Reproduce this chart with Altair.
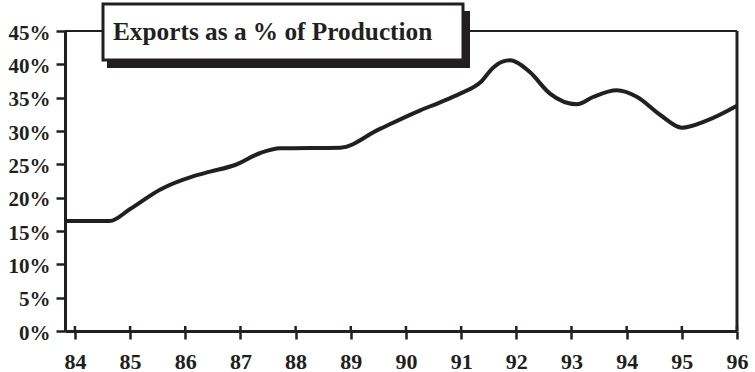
import altair as alt
import pandas as pd

# Exports as a share of production, by year (fractional years for curve shape)
years = [83.82, 84.63, 85.0, 85.54, 86.14, 86.45, 86.9, 87.36, 87.72, 88.81,
         89.5, 90.26, 90.62, 90.98, 91.35, 91.58, 91.75, 91.89, 92.05, 92.25,
         92.61, 93.1, 93.39, 93.82, 94.19, 94.61, 95.0, 95.46, 96.0]
pct = [16.5, 16.5, 18.3, 21.2, 23.2, 23.9, 24.9, 26.7, 27.4, 27.5,
       30.2, 33.1, 34.3, 35.6, 37.3, 39.5, 40.4, 40.6, 40.1, 38.8,
       35.6, 34.0, 35.1, 36.1, 35.1, 32.4, 30.5, 31.6, 33.8]

tick_years = list(range(84, 97))
pct_ticks = list(range(0, 50, 5))
title_text = "Exports as a % of Production"

INK = "#231f20"
FONT = "Liberation Serif"
X_DOMAIN = [83.82, 96]
Y_DOMAIN = [0, 45]
W, H = 672, 300

df = pd.DataFrame({"year": years, "pct": pct})
ticks_df = pd.DataFrame({"year": tick_years})
one = pd.DataFrame({"k": [0]})

xs = alt.Scale(domain=X_DOMAIN, nice=False, zero=False)
ys = alt.Scale(domain=Y_DOMAIN, nice=False, zero=True)

x_axis = alt.Axis(values=tick_years, format="d", title=None, grid=False,
                  tickSize=8, tickWidth=2.5, tickColor=INK,
                  domainWidth=3, domainColor=INK,
                  labelFont=FONT, labelFontWeight="bold", labelFontSize=22,
                  labelColor=INK, labelPadding=12, labelFlush=False,
                  labelOverlap=False)
y_axis = alt.Axis(values=pct_ticks, title=None, grid=False,
                  labelExpr="datum.value + '%'",
                  tickSize=9, tickWidth=2.5, tickColor=INK,
                  domainWidth=3, domainColor=INK,
                  labelFont=FONT, labelFontWeight="bold", labelFontSize=21,
                  labelColor=INK, labelPadding=6, labelOffset=2,
                  labelFlush=False, labelOverlap=False)

line = alt.Chart(df).mark_line(color=INK, strokeWidth=4,
                               interpolate="monotone").encode(
    x=alt.X("year:Q", scale=xs, axis=x_axis),
    y=alt.Y("pct:Q", scale=ys, axis=y_axis),
)

# tick stubs crossing above the bottom axis line
tick_stubs = alt.Chart(ticks_df).mark_rule(color=INK, strokeWidth=2.5).encode(
    x=alt.X("year:Q", scale=xs, axis=x_axis),
    y=alt.value(H - 5),
    y2=alt.value(H),
)

# top and right frame lines
frame_top = alt.Chart(one).mark_rule(color=INK, strokeWidth=2.2).encode(
    x=alt.value(0), x2=alt.value(W), y=alt.value(0),
)
frame_right = alt.Chart(one).mark_rule(color=INK, strokeWidth=3).encode(
    x=alt.value(W), y=alt.value(0), y2=alt.value(H),
)

# title box with drop shadow
shadow = alt.Chart(one).mark_rect(color=INK).encode(
    x=alt.value(42), x2=alt.value(405), y=alt.value(-20), y2=alt.value(37),
)
box = alt.Chart(one).mark_rect(fill="white", stroke=INK, strokeWidth=3).encode(
    x=alt.value(38), x2=alt.value(398), y=alt.value(-27), y2=alt.value(29),
)
title = alt.Chart(one).mark_text(
    text=title_text, font=FONT, fontWeight="bold", fontSize=25.3,
    color=INK, align="left", baseline="alphabetic",
).encode(x=alt.value(48), y=alt.value(9))

chart = alt.layer(
    line, tick_stubs, frame_top, frame_right, shadow, box, title
).properties(
    width=W, height=H,
    autosize=alt.AutoSizeParams(type="none"),
    padding={"left": 65, "top": 31, "right": 18, "bottom": 41},
    background="white",
).configure_view(stroke="transparent")

chart.save("out.html", embed_options={"renderer": "svg", "actions": False})
